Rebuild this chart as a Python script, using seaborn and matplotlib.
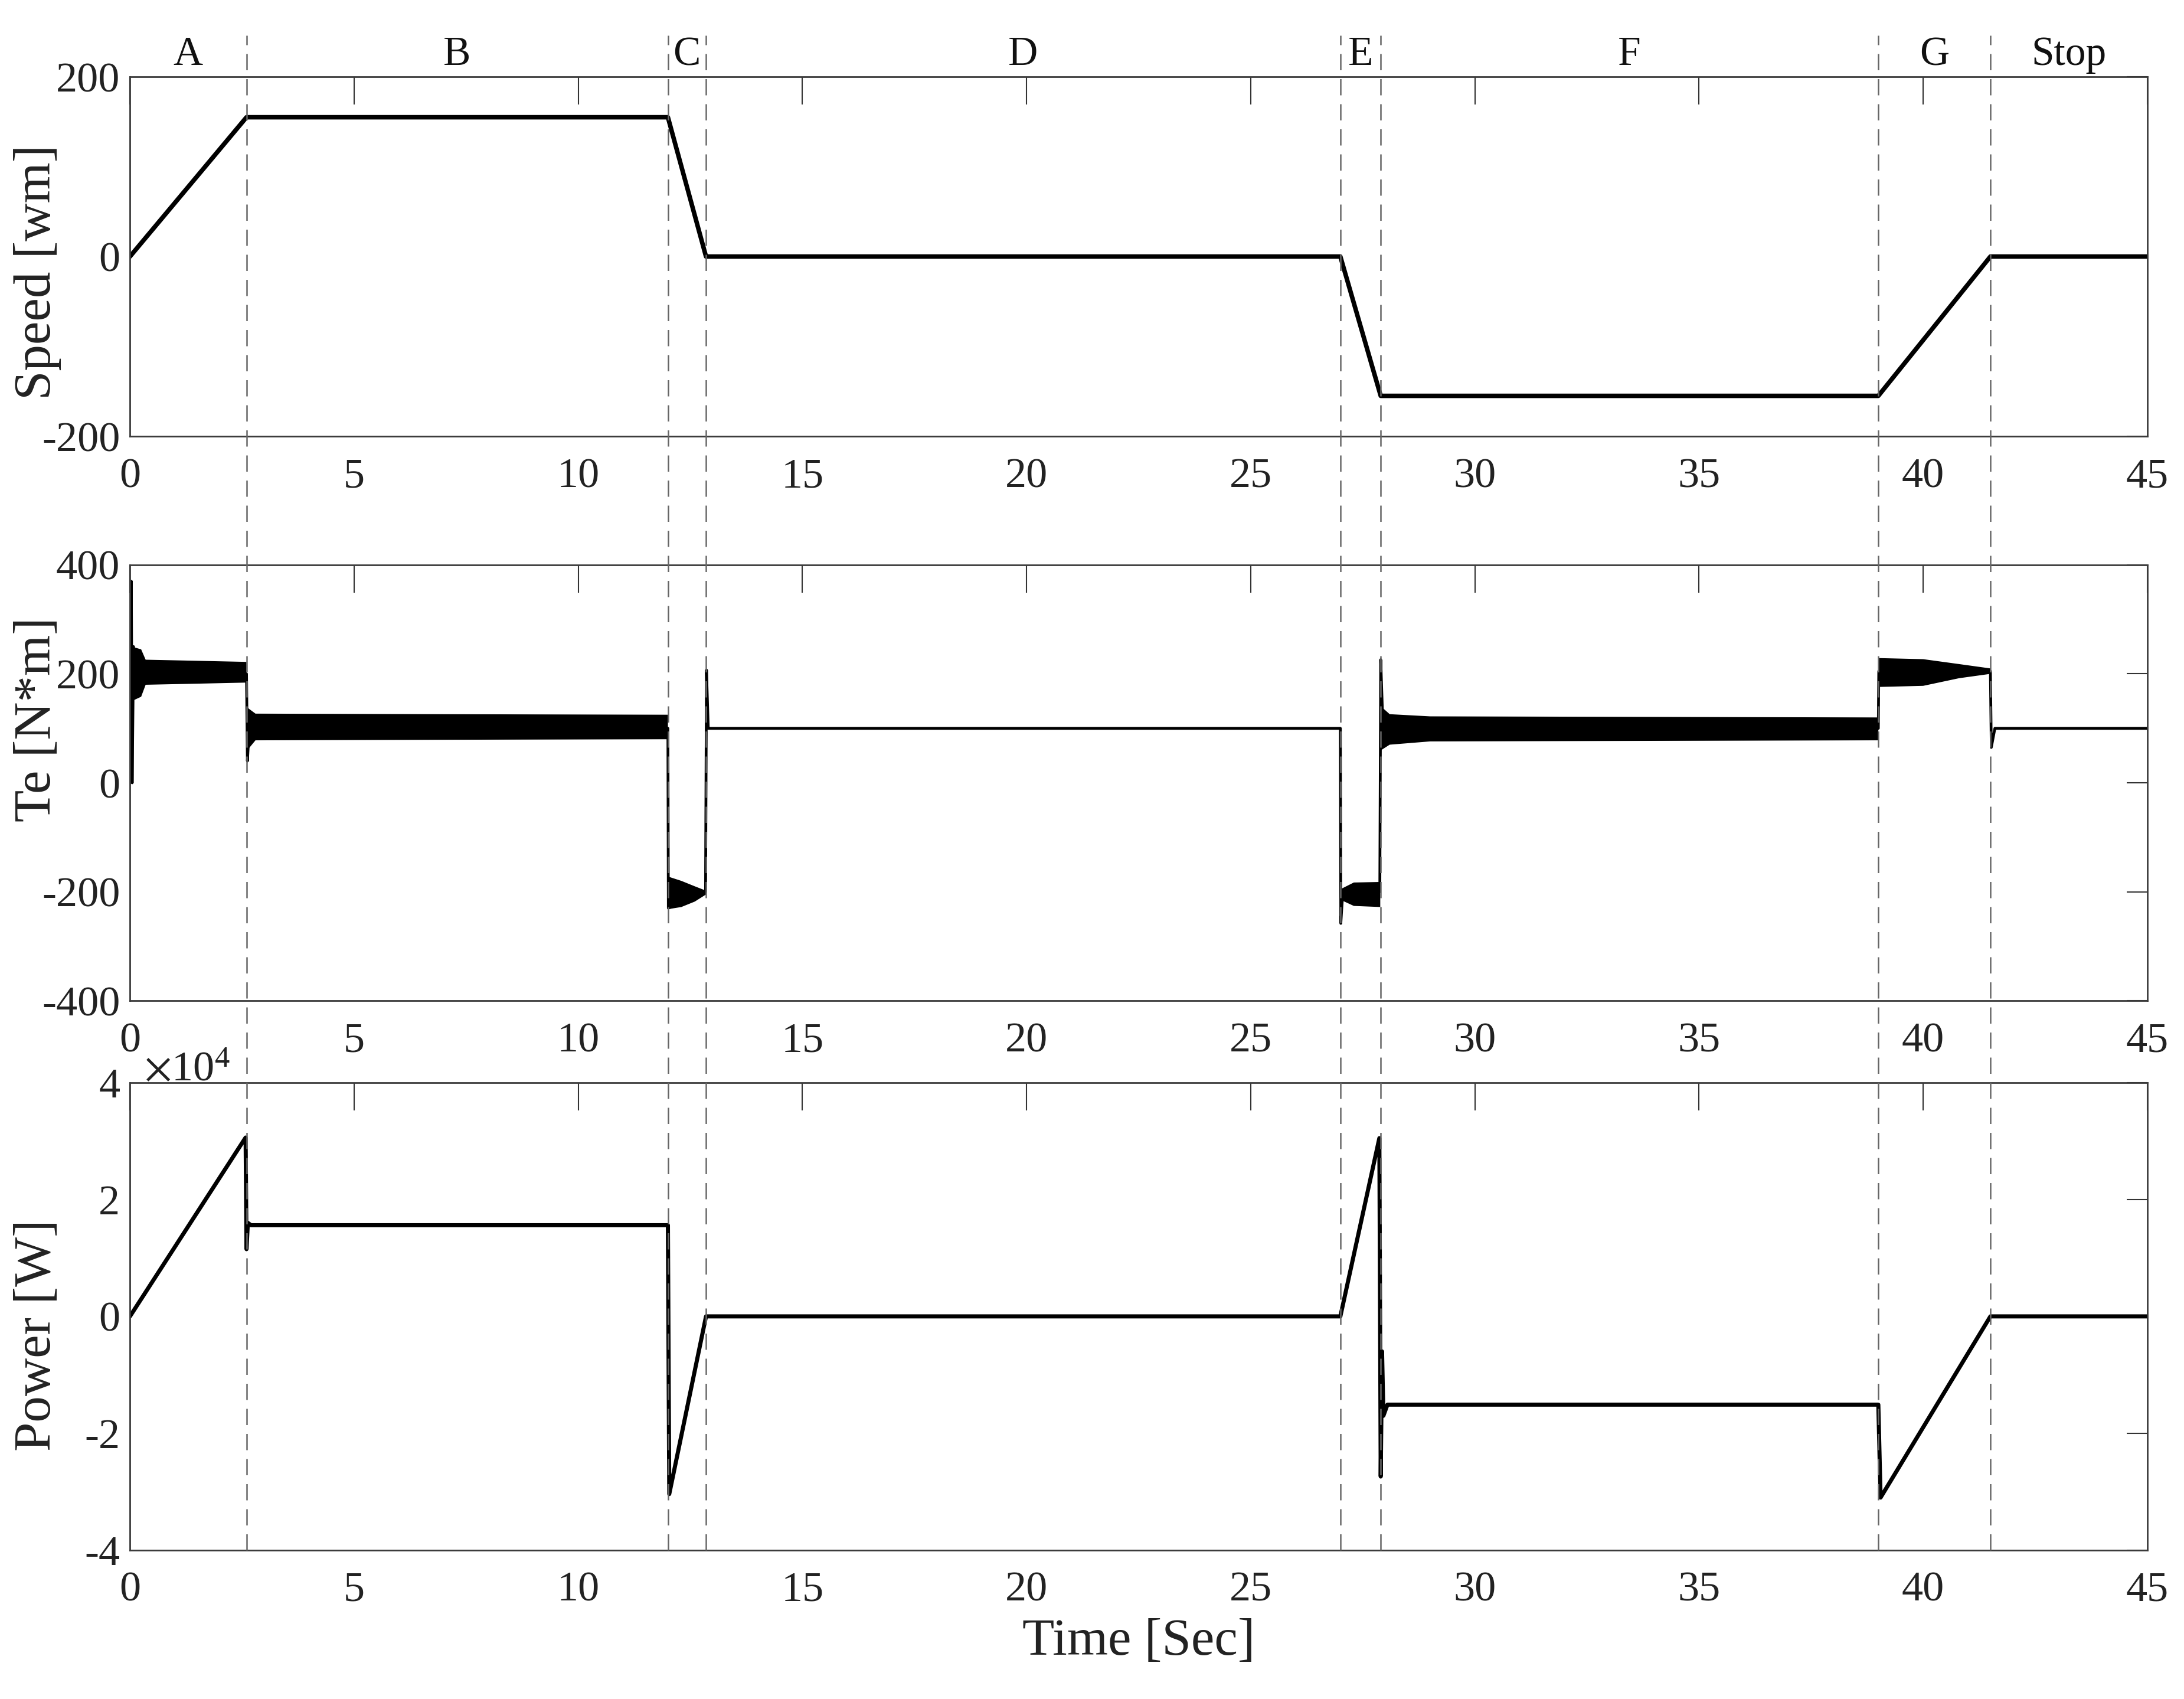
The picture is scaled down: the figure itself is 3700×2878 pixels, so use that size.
import numpy as np
import matplotlib
matplotlib.use('Agg')
import matplotlib.pyplot as plt
import matplotlib.transforms as mtransforms
from matplotlib.lines import Line2D
from matplotlib.ticker import ScalarFormatter
import seaborn as sns

sns.set_theme(style='white')
plt.rcParams['font.family'] = ['Liberation Serif', 'DejaVu Serif']
plt.rcParams['mathtext.fontset'] = 'stix'
plt.rcParams['axes.unicode_minus'] = False

# operating phases (boundaries in seconds)
bounds = [2.6, 12.0, 12.85, 27.0, 27.9, 39.0, 41.5]
phase_names = ['A', 'B', 'C', 'D', 'E', 'F', 'G', 'Stop']
t_end = 45

# rotor speed [rad/s]
speed_t = [0, 2.6, 12.0, 12.85, 27.0, 27.9, 39.0, 41.5, 45]
speed_w = [0, 155, 155, 0, 0, -155, -155, 0, 0]

# electromagnetic torque trace [N*m]
te_t = [0, 0.03, 0.05, 0.08, 0.15, 0.3, 2.6, 2.62, 2.66, 2.8, 12.0, 12.01,
        12.84, 12.86, 12.9, 13.0, 27.0, 27.01, 27.05, 27.88, 27.9, 27.95,
        28.1, 39.0, 39.01, 41.5, 41.52, 41.6, 45]
te_v = [0, 370, 0, 250, 200, 200, 200, 40, 100, 100, 100, -230, -200, 207,
        100, 100, 100, -258, -205, -200, 226, 100, 100, 100, 205, 205, 65,
        100, 100]

# torque ripple envelope (nan = gap between phases)
band_t = [0.04, 0.25, 0.35, 1.5, 2.6, np.nan,
          2.62, 2.8, 7.0, 12.0, np.nan,
          12.0, 12.3, 12.6, 12.85, np.nan,
          27.01, 27.3, 27.89, np.nan,
          27.91, 28.1, 29.0, 39.0, np.nan,
          39.0, 40.0, 40.8, 41.5]
band_hi = [250, 245, 226, 224, 222, np.nan,
           138, 127, 126, 125, np.nan,
           -172, -180, -190, -198, np.nan,
           -195, -183, -182, np.nan,
           140, 126, 122, 120, np.nan,
           229, 227, 218, 210]
band_lo = [150, 158, 180, 182, 184, np.nan,
           60, 78, 79, 80, np.nan,
           -232, -228, -218, -205, np.nan,
           -215, -226, -228, np.nan,
           60, 70, 76, 78, np.nan,
           176, 178, 192, 200]

# mechanical power [W]
pw_t = [0, 2.58, 2.6, 2.63, 2.7, 12.0, 12.03, 12.85, 27.0, 27.87, 27.9,
        27.93, 27.96, 28.05, 39.0, 39.05, 41.5, 45]
pw_v = [0, 30600, 11500, 16000, 15600, 15600, -30400, 0, 0, 30500, -27400,
        -6000, -17000, -15100, -15100, -31000, 0, 0]


class PlainSciFormatter(ScalarFormatter):
    # keep the x10^4 offset in mathtext but write tick labels as plain text
    def __call__(self, x, pos=None):
        s = super().__call__(x, pos)
        return (s.replace(r'$\mathdefault{', '').replace('}$', '')
                 .replace('\u2212', '-'))


fig = plt.figure(figsize=(37, 28.78), dpi=100)
left, width = 0.0595, 0.9237
ax1 = fig.add_axes([left, 0.7432, width, 0.2116])
ax2 = fig.add_axes([left, 0.4110, width, 0.2565])
ax3 = fig.add_axes([left, 0.0876, width, 0.2752])

sns.lineplot(x=speed_t, y=speed_w, ax=ax1, color='black', lw=5.5,
             estimator=None, sort=False)
ax2.fill_between(band_t, band_lo, band_hi, color='black', lw=0)
sns.lineplot(x=te_t, y=te_v, ax=ax2, color='black', lw=3.4,
             estimator=None, sort=False)
sns.lineplot(x=pw_t, y=pw_v, ax=ax3, color='black', lw=5.0,
             estimator=None, sort=False)

ax1.set_ylim(-200, 200)
ax1.set_yticks([-200, 0, 200])
ax2.set_ylim(-400, 400)
ax2.set_yticks([-400, -200, 0, 200, 400])
ax3.set_ylim(-40000, 40000)
ax3.set_yticks([-40000, -20000, 0, 20000, 40000])
fmt = PlainSciFormatter(useMathText=True)
fmt.set_powerlimits((4, 4))
ax3.yaxis.set_major_formatter(fmt)

ylabels = ['Speed [wm]', 'Te [N*m]', 'Power [W]']
ylabel_pos = [0.457, 0.645, 0.46]
for ax, lab, yp in zip([ax1, ax2, ax3], ylabels, ylabel_pos):
    ax.set_xlim(0, t_end)
    ax.set_xticks(range(0, 46, 5))
    ax.set_ylabel(lab, fontsize=64, color='#222222')
    ax.yaxis.set_label_coords(-0.034, yp)
    ax.tick_params(axis='x', direction='in', length=34, width=1.5,
                   labelsize=52, pad=26, top=True, color='#333333',
                   labelcolor='#222222')
    ax.tick_params(axis='y', direction='in', length=25, width=1.5,
                   labelsize=52, pad=12, right=True, color='#333333',
                   labelcolor='#222222')
    for sp in ax.spines.values():
        sp.set_color('#3a3a3a')
        sp.set_linewidth(2.0)
    ax.set_xlabel('')

offset = ax3.yaxis.get_offset_text()
offset.set_fontsize(52)
offset.set_x(0.007)
ax3.set_xlabel('Time [Sec]', fontsize=64, color='#222222')
ax3.xaxis.set_label_coords(0.5, -0.145)

# dashed phase boundaries running through all panels
trans = mtransforms.blended_transform_factory(ax3.transData, fig.transFigure)
for b in bounds:
    fig.add_artist(Line2D([b, b], [0.0876, 0.979], transform=trans,
                          color='#666666', lw=1.8,
                          linestyle=(0, (11, 6)), zorder=5))

# phase names above the top panel
edges = [0] + bounds + [t_end]
top_trans = mtransforms.blended_transform_factory(ax1.transData,
                                                  ax1.transAxes)
for name, a, b in zip(phase_names, edges[:-1], edges[1:]):
    ax1.text((a + b) / 2, 1.008, name, transform=top_trans, ha='center',
             va='bottom', fontsize=50, color='#111111')

fig.savefig('out.png', dpi=100)
